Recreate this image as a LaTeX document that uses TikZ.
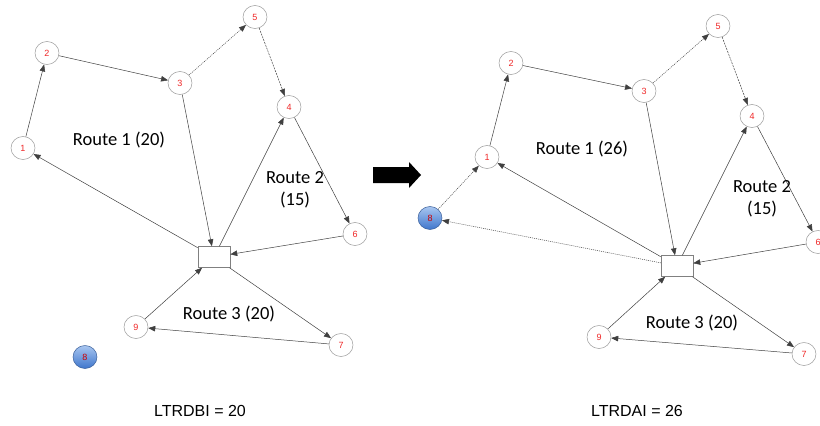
\documentclass[tikz,border=0pt]{standalone}
\usepackage{fontspec}
\setmainfont{Liberation Sans}
\newfontfamily\routefont{Carlito}
\usetikzlibrary{arrows.meta,shapes.geometric}

\definecolor{spareTop}{HTML}{A8C6F0}
\definecolor{spareBottom}{HTML}{3F76CC}
\definecolor{spareEdge}{HTML}{3A5F99}
\definecolor{stopText}{HTML}{F02828}

\tikzset{
  stop/.style={ellipse, draw=black!40, line width=0.5pt, fill=white,
    minimum width=24pt, minimum height=23pt, inner sep=0pt,
    text=stopText, font=\fontsize{9}{9}\selectfont},
  spare/.style={stop, draw=spareEdge, top color=spareTop, bottom color=spareBottom,
    text=red!80!black},
  depot/.style={rectangle, draw=black!50, line width=0.5pt, fill=white,
    minimum width=32pt, minimum height=21pt, inner sep=0pt},
  link/.style={draw=black!75, line width=0.5pt, -{Triangle[length=7pt,width=5.5pt]}},
  dotlink/.style={link, dash pattern=on 1pt off 1pt},
  dashlink/.style={link, dash pattern=on 2pt off 1pt},
  route/.style={font=\routefont\fontsize{18.5}{22}\selectfont, align=center},
  score/.style={font=\fontsize{16}{18}\selectfont}
}

\begin{document}
\begin{tikzpicture}[x=1pt,y=-1pt]
\useasboundingbox (0,0) rectangle (820,426);

% ---------- before insertion ----------
\node[stop] (a1) at (23,148) {1};
\node[stop] (a2) at (47,53) {2};
\node[stop] (a3) at (180,83) {3};
\node[stop] (a5) at (255,17) {5};
\node[stop] (a4) at (289,107) {4};
\node[stop] (a6) at (355,234) {6};
\node[stop] (a9) at (136,327) {9};
\node[stop] (a7) at (341,345) {7};
\node[spare] (a8) at (85,357) {8};
\node[depot] (ad) at (214,257) {};

\draw[link] (a1) -- (a2);
\draw[link] (a2) -- (a3);
\draw[dotlink] (a3) -- (a5);
\draw[dashlink] (a5) -- (a4);
\draw[link] (a3) -- (ad);
\draw[link] (ad) -- (a4);
\draw[link] (a4) -- (a6);
\draw[link] (a6) -- (ad);
\draw[link] (ad) -- (a1);
\draw[link] (ad) -- (a7);
\draw[link] (a7) -- (a9);
\draw[link] (a9) -- (ad);

\node[route] (ar1) at (119,140) {Route 1 (20)};
\node[route] (ar2) at (295,190) {Route 2\\(15)};
\node[route] (ar3) at (229,314) {Route 3 (20)};
\node[score] (as) at (200,411) {LTRDBI = 20};

% ---------- transition arrow ----------
\fill[black] (373,167) -- (409,167) -- (409,162) -- (421,175) -- (409,188) -- (409,183) -- (373,183) -- cycle;

% ---------- after insertion ----------
\node[stop] (b1) at (487,157) {1};
\node[stop] (b2) at (511,63) {2};
\node[stop] (b3) at (644,91) {3};
\node[stop] (b5) at (718,26) {5};
\node[stop] (b4) at (752,116) {4};
\node[stop] (b6) at (818,242) {6};
\node[stop] (b9) at (599,337) {9};
\node[stop] (b7) at (804,354) {7};
\node[spare] (b8) at (430,218) {8};
\node[depot] (bd) at (677,266) {};

\draw[link] (b1) -- (b2);
\draw[link] (b2) -- (b3);
\draw[dotlink] (b3) -- (b5);
\draw[dashlink] (b5) -- (b4);
\draw[link] (b3) -- (bd);
\draw[link] (bd) -- (b4);
\draw[link] (b4) -- (b6);
\draw[link] (b6) -- (bd);
\draw[link] (bd) -- (b1);
\draw[dotlink] (bd) -- (b8);
\draw[dotlink] (b8) -- (b1);
\draw[link] (bd) -- (b7);
\draw[link] (b7) -- (b9);
\draw[link] (b9) -- (bd);

\node[route] (br1) at (582,149) {Route 1 (26)};
\node[route] (br2) at (762,199) {Route 2\\(15)};
\node[route] (br3) at (692,323) {Route 3 (20)};
\node[score] (bs) at (637,411) {LTRDAI = 26};
\end{tikzpicture}
\end{document}
